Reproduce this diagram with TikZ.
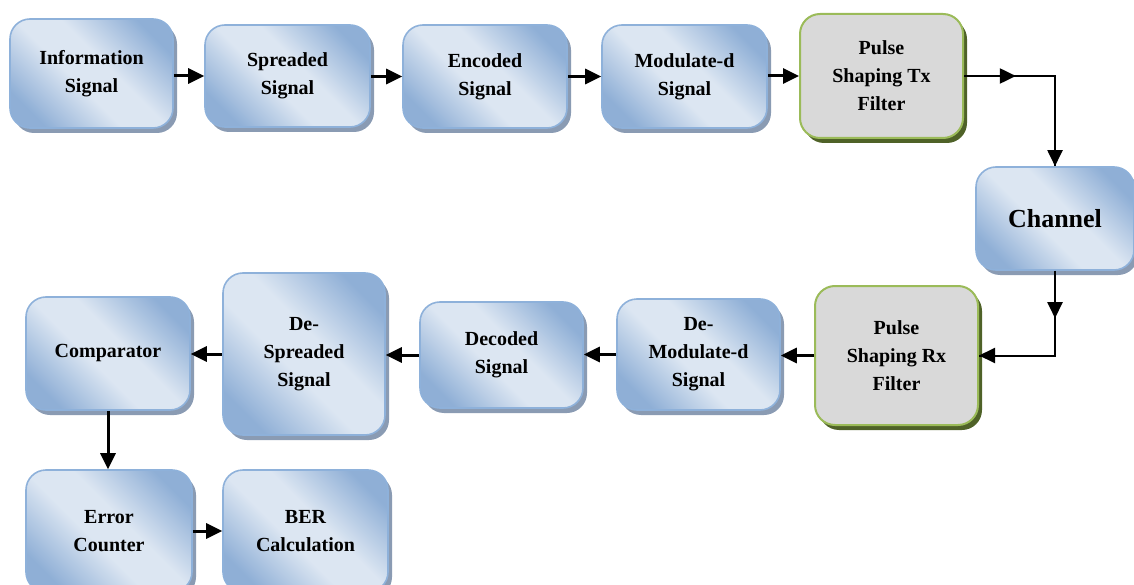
\documentclass[tikz,border=0pt]{standalone}
\usepackage{xcolor}
\usepackage{tikz}
\usepackage{fontspec}
\setmainfont{Liberation Serif}
\usetikzlibrary{arrows.meta, positioning, shadows, calc}
\definecolor{boxlight}{HTML}{DCE6F2}
\definecolor{boxdark}{HTML}{8FAFD6}
\definecolor{boxline}{HTML}{8EB1DA}
\definecolor{boxshadow}{HTML}{8A9BB3}
\definecolor{filtfill}{HTML}{D9D9D9}
\definecolor{filtline}{HTML}{9BBB59}
\definecolor{filtshadow}{HTML}{4F6228}
\pgfdeclareverticalshading{blkshade}{100bp}{color(0bp)=(boxdark); color(24bp)=(boxdark);
  color(44bp)=(boxlight); color(56bp)=(boxlight); color(76bp)=(boxdark); color(100bp)=(boxdark)}

\begin{document}
\begin{tikzpicture}[x=1pt, y=-1pt,
    >={Triangle[length=16pt, width=15pt]},
    blk/.style={draw=boxline, line width=1.6pt, rounded corners=20pt,
      shading=blkshade, shading angle=-45, align=center, inner sep=4pt,
      font=\fontsize{20}{28}\selectfont\bfseries,
      drop shadow={shadow xshift=4pt, shadow yshift=-5pt, fill=boxshadow, opacity=1}},
    filt/.style={draw=filtline, line width=2pt, rounded corners=20pt, fill=filtfill,
      align=center, inner sep=4pt,
      font=\fontsize{20}{28}\selectfont\bfseries,
      drop shadow={shadow xshift=4pt, shadow yshift=-5pt, fill=filtshadow, opacity=1}},
    link/.style={line width=3pt, ->},
    wire/.style={line width=2pt}]
  \useasboundingbox (0,0) rectangle (1134,585);

  % Sender
  \node[blk, minimum width=163pt, minimum height=109pt] (info) at (91.5,73.5) {Information\\Signal};
  \node[blk, minimum width=165pt, minimum height=102pt] (spread) at (287.5,76) {Spreaded\\Signal};
  \node[blk, minimum width=164pt, minimum height=103pt] (enc) at (485,76.5) {Encoded\\Signal};
  \node[blk, minimum width=165pt, minimum height=103pt] (mod) at (684.5,76.5) {Modulate-d\\Signal};
  \node[filt, minimum width=163pt, minimum height=124pt] (tx) at (881.5,76) {Pulse\\Shaping Tx\\Filter};

  % Channel
  \node[blk, minimum width=158pt, minimum height=103pt, font=\fontsize{26}{30}\selectfont\bfseries] (chan) at (1055,218.5) {Channel};

  % Receiver
  \node[filt, minimum width=163pt, minimum height=139pt] (rx) at (896.5,355.5) {Pulse\\Shaping Rx\\Filter};
  \node[blk, minimum width=163pt, minimum height=111pt] (demod) at (698.5,354.5) {De-\\Modulate-d\\Signal};
  \node[blk, minimum width=163pt, minimum height=106pt] (dec) at (501.5,355) {Decoded\\Signal};
  \node[blk, minimum width=162pt, minimum height=162pt] (despr) at (304,354) {De-\\Spreaded\\Signal};
  \node[blk, minimum width=164pt, minimum height=113pt] (cmp) at (108,353.5) {Comparator};
  \node[blk, minimum width=166pt, minimum height=122pt] (err) at (109,531) {Error\\Counter};
  \node[blk, minimum width=165pt, minimum height=122pt] (ber) at (305.5,531) {BER\\Calculation};

  % Verbindungen
  \draw[link] (spread.west -| info.east) -- (spread.west);
  \draw[link] (enc.west -| spread.east) -- (enc.west);
  \draw[link] (mod.west -| enc.east) -- (mod.west);
  \draw[link] (tx.west -| mod.east) -- (tx.west);

  \draw[wire] (tx.east) -- (tx.east -| chan.north) -- (chan.north);
  \draw[wire, ->] (tx.east) -- ($(tx.east)!0.57!(tx.east -| chan.north)$);
  \draw[wire, ->] (tx.east -| chan.north) -- (chan.north);

  \draw[wire] (chan.south) -- (chan.south |- rx.east) -- (rx.east);
  \draw[wire, ->] (chan.south) -- ($(chan.south)!0.56!(chan.south |- rx.east)$);
  \draw[wire, ->] (chan.south |- rx.east) -- (rx.east);

  \draw[link] (rx.west) -- (rx.west -| demod.east);
  \draw[link] (demod.west) -- (demod.west -| dec.east);
  \draw[link] (dec.west) -- (dec.west -| despr.east);
  \draw[link] (despr.west) -- (despr.west -| cmp.east);
  \draw[link] (cmp.south) -- (cmp.south |- err.north);
  \draw[link] (err.east) -- (err.east -| ber.west);
\end{tikzpicture}
\end{document}
